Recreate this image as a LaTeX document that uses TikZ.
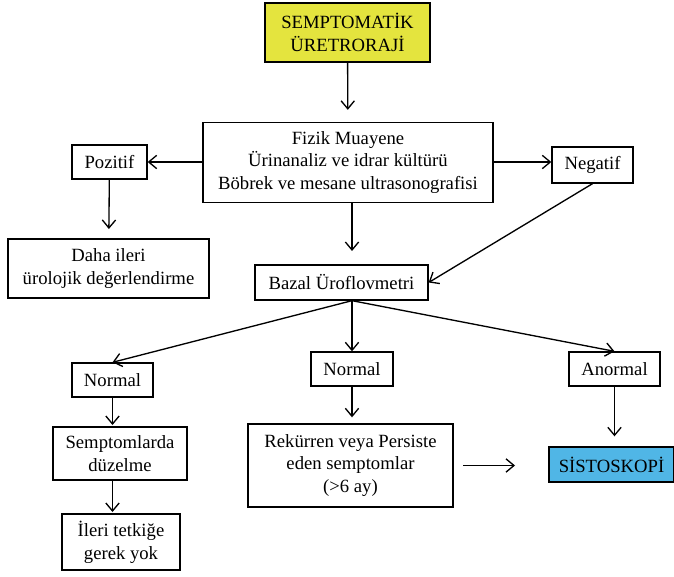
\documentclass[tikz,border=0pt]{standalone}
\usepackage{fontspec}
\setmainfont{Liberation Serif}
\usepackage{tikz}
\usetikzlibrary{arrows.meta}
\definecolor{yellowbox}{RGB}{228,228,62}
\definecolor{bluebox}{RGB}{80,182,230}

\begin{document}
\begin{tikzpicture}[x=0.75pt, y=-0.75pt,
    box/.style={rectangle, draw, line width=1pt, align=center, inner sep=0pt,
        font=\fontsize{14}{17}\selectfont},
    arr/.style={-{Straight Barb[length=6pt, width=10pt]}, line width=1pt}]
    \useasboundingbox (0,0) rectangle (674,577);

    \node at (347.5,32.5) [box, fill=yellowbox, minimum width=123.75pt, minimum height=44.25pt] (Uretroraji) {SEMPTOMATİK\\ÜRETRORAJİ};
    \node at (348,162.5) [box, minimum width=217.5pt, minimum height=60pt] (Fizik) {Fizik Muayene\\Ürinanaliz ve idrar kültürü\\Böbrek ve mesane ultrasonografisi};
    \node at (109.5,162) [box, minimum width=56.25pt, minimum height=25.5pt] (Pozitif) {Pozitif};
    \node at (592.5,165) [box, minimum width=60.75pt, minimum height=27pt] (Negatif) {Negatif};
    \node at (108.5,268.5) [box, minimum width=150.75pt, minimum height=44.25pt] (Daha) {Daha ileri\\ürolojik değerlendirme};
    \node at (341.5,282.5) [box, minimum width=129.75pt, minimum height=26.25pt] (Bazal) {Bazal Üroflovmetri};

    \node at (112.5,380) [box, minimum width=60.75pt, minimum height=25.5pt] (NormalA) {Normal};
    \node at (352,369) [box, minimum width=61.5pt, minimum height=25.5pt] (NormalB) {Normal};
    \node at (614.5,369) [box, minimum width=68.25pt, minimum height=25.5pt] (Anormal) {Anormal};

    \node at (120,453.5) [box, minimum width=100.5pt, minimum height=39.75pt] (Semptom) {Semptomlarda\\düzelme};
    \node at (121,542) [box, minimum width=88.5pt, minimum height=42pt] (Ileri) {İleri tetkiğe\\gerek yok};
    \node at (350.5,465.5) [box, minimum width=153.75pt, minimum height=62.25pt] (Rekurren) {Rekürren veya Persiste\\eden semptomlar\\(>6 ay)};
    \node at (611.5,464.5) [box, fill=bluebox, minimum width=93.75pt, minimum height=26.25pt] (Sistoskopi) {SİSTOSKOPİ};

    \draw[arr, shorten >=9pt] (Uretroraji) -- (Fizik);
    \draw[arr] (Fizik.west |- Pozitif) -- (Pozitif.east);
    \draw[arr] (Fizik.east |- Pozitif) -- (Negatif.west |- Pozitif);
    \draw[arr, shorten >=7pt] (Pozitif) -- (Daha);
    \draw[arr, shorten >=10pt] (Fizik.south -| NormalB) -- (Bazal.north -| NormalB);
    \draw[arr] (Negatif.south) -- (Bazal.east);

    \draw[arr] (Bazal.south -| NormalB) -- (NormalA.north);
    \draw[arr] (Bazal.south -| NormalB) -- (NormalB.north);
    \draw[arr] (Bazal.south -| NormalB) -- (Anormal.north);

    \draw[arr, shorten >=1pt] (NormalA.south) -- (NormalA.south |- Semptom.north);
    \draw[arr, shorten >=1pt] (NormalA.south |- Semptom.south) -- (NormalA.south |- Ileri.north);
    \draw[arr, shorten >=4.5pt] (NormalB.south) -- (NormalB.south |- Rekurren.north);
    \draw[arr, shorten <=7pt, shorten >=25pt] (Rekurren.east) -- (Sistoskopi.west |- Rekurren.east);
    \draw[arr, shorten >=7.5pt] (Anormal.south) -- (Anormal.south |- Sistoskopi.north);
\end{tikzpicture}
\end{document}
